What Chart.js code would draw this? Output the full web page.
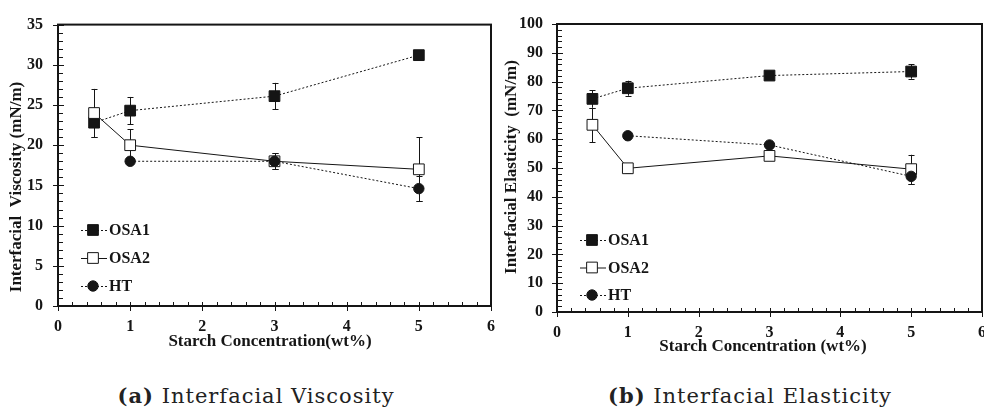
<!DOCTYPE html>
<html>
<head>
<meta charset="utf-8">
<script src="https://cdn.jsdelivr.net/npm/chart.js@4.4.0/dist/chart.umd.min.js"></script>
<style>
  body { margin: 0; width: 984px; height: 409px; overflow: hidden; background: #fff; position: relative; }
  #visc { position: absolute; left: 0; top: 0; }
  #elas { position: absolute; left: 492px; top: 0; }
  .caption { position: absolute; top: 383px; font-family: 'DejaVu Serif', serif; font-size: 21px; letter-spacing: 1px;
             line-height: 26px; color: #222; white-space: nowrap; transform: translateX(-50%); }
</style>
</head>
<body>
<canvas id="visc" width="500" height="352"></canvas>
<canvas id="elas" width="500" height="356"></canvas>
<div class="caption" style="left:256px"><b>(a)</b> Interfacial Viscosity</div>
<div class="caption" style="left:750px"><b>(b)</b> Interfacial Elasticity</div>
<script>
// starch concentration (wt%)
const concentrations = [0.5, 1, 3, 5];
const htConcentrations = [1, 3, 5];
const seriesNames = ['OSA1', 'OSA2', 'HT'];

// (a) interfacial viscosity (mN/m) with error bar half-heights
const viscOSA1 = [22.8, 24.3, 26.1, 31.2];
const viscOSA1Err = [1.8, 1.7, 1.65, 0.5];
const viscOSA2 = [24.0, 20.0, 18.0, 17.0];
const viscOSA2Err = [3.0, 2.0, 1.0, 4.0];
const viscHT = [18.0, 18.0, 14.6];
const viscHTErr = [0, 1.0, 1.6];

// (b) interfacial elasticity (mN/m)
const elasOSA1 = [74.0, 77.7, 82.1, 83.5];
const elasOSA1Err = [3.0, 2.6, 0.8, 2.5];
const elasOSA2 = [65.0, 49.9, 54.2, 49.6];
const elasOSA2Err = [6.0, 1.5, 0.8, 5.0];
const elasHT = [61.2, 58.0, 47.1];
const elasHTErr = [0.5, 0.8, 2.8];

const xTitle = ['Starch Concentration(wt%)', 'Starch Concentration (wt%)'];
const yTitle = ['Interfacial  Viscosity (mN/m)', 'Interfacial Elasticity  (mN/m)'];

const INK = '#151515';
const SERIF = '"Liberation Serif", serif';

const toPoints = (xs, ys) => xs.map((x, i) => ({ x: x, y: ys[i] }));

// marker / line look per series
const looks = {
  OSA1: { pointStyle: 'rect', radius: 7.6, fill: INK, dash: [2, 2], order: 2 },
  OSA2: { pointStyle: 'rect', radius: 7.6, fill: '#fff', dash: [], order: 1 },
  HT:   { pointStyle: 'circle', radius: 5.2, fill: INK, dash: [2, 2], order: 0 }
};

const makeDataset = (name, xs, ys, errs) => {
  const lk = looks[name];
  return {
    label: name,
    data: toPoints(xs, ys),
    errors: errs,
    showLine: true,
    borderColor: INK,
    borderWidth: 1,
    borderDash: lk.dash,
    pointStyle: lk.pointStyle,
    pointRadius: lk.radius,
    pointBackgroundColor: lk.fill,
    pointBorderColor: INK,
    pointBorderWidth: 1,
    order: lk.order
  };
};

// draws a marker like chart.js does, for the legend
const drawMarker = (ctx, style, r, x, y, fill) => {
  ctx.beginPath();
  if (style === 'rect') {
    const s = r * Math.SQRT1_2;
    ctx.rect(x - s, y - s, 2 * s, 2 * s);
  } else {
    ctx.arc(x, y, r, 0, Math.PI * 2);
  }
  ctx.fillStyle = fill;
  ctx.fill();
  ctx.lineWidth = 1;
  ctx.strokeStyle = INK;
  ctx.stroke();
};

// frame, inward ticks, error bars, legend and axis titles
const decorPlugin = {
  id: 'decor',
  beforeDatasetsDraw(chart) {
    const ctx = chart.ctx;
    const xs = chart.scales.x, ys = chart.scales.y;
    ctx.save();
    ctx.strokeStyle = INK;
    ctx.lineWidth = 1;
    ctx.beginPath();
    chart.data.datasets.forEach(ds => {
      ds.data.forEach((p, i) => {
        const e = ds.errors[i];
        if (!e) return;
        const x = Math.round(xs.getPixelForValue(p.x)) + 0.5;
        const y1 = ys.getPixelForValue(p.y - e), y2 = ys.getPixelForValue(p.y + e);
        ctx.moveTo(x, y1); ctx.lineTo(x, y2);
        ctx.moveTo(x - 3, Math.round(y1) + 0.5); ctx.lineTo(x + 3, Math.round(y1) + 0.5);
        ctx.moveTo(x - 3, Math.round(y2) + 0.5); ctx.lineTo(x + 3, Math.round(y2) + 0.5);
      });
    });
    ctx.stroke();
    ctx.restore();
  },
  afterDraw(chart, args, opts) {
    const ctx = chart.ctx;
    const { left, right, top, bottom } = chart.chartArea;
    const xs = chart.scales.x, ys = chart.scales.y;
    ctx.save();
    ctx.strokeStyle = INK;

    // minor and major ticks
    ctx.lineWidth = 1;
    ctx.beginPath();
    const ySteps = Math.round((ys.max - ys.min) / opts.yMinor);
    for (let i = 0; i <= ySteps; i++) {
      const y = Math.round(ys.getPixelForValue(ys.min + i * opts.yMinor)) + 0.5;
      const major = i % opts.perMajor === 0;
      ctx.moveTo(left - (major ? 5 : 0), y);
      ctx.lineTo(left + (major ? 6 : 5), y);
    }
    const xSteps = Math.round((xs.max - xs.min) / 0.2);
    for (let i = 0; i <= xSteps; i++) {
      const x = Math.round(xs.getPixelForValue(xs.min + i * 0.2)) + 0.5;
      const major = i % 5 === 0;
      ctx.moveTo(x, bottom + (major ? 5 : 0));
      ctx.lineTo(x, bottom - 4);
    }
    ctx.stroke();

    // plot frame
    ctx.lineWidth = 2;
    ctx.strokeRect(left, top, right - left, bottom - top);

    // legend
    ctx.font = 'bold 16px ' + SERIF;
    ctx.textBaseline = 'middle';
    ctx.textAlign = 'left';
    seriesNames.forEach((name, i) => {
      const lk = looks[name];
      const y = opts.legendY + i * opts.legendGap;
      const x0 = left + 23;
      ctx.lineWidth = 1;
      ctx.strokeStyle = INK;
      ctx.setLineDash(lk.dash);
      ctx.beginPath();
      ctx.moveTo(x0, y + 0.5); ctx.lineTo(x0 + 26, y + 0.5);
      ctx.stroke();
      ctx.setLineDash([]);
      drawMarker(ctx, lk.pointStyle, lk.radius, x0 + 12, y, lk.fill);
      ctx.fillStyle = INK;
      ctx.fillText(name, x0 + 28, y + 1);
    });

    // axis titles
    ctx.font = 'bold 17px ' + SERIF;
    ctx.textAlign = 'center';
    ctx.fillStyle = INK;
    ctx.fillText(opts.xTitle, opts.xTitleX, opts.xTitleY);
    ctx.translate(opts.yTitleX, opts.yTitleY);
    ctx.rotate(-Math.PI / 2);
    ctx.fillText(opts.yTitle, 0, 0);
    ctx.restore();
  }
};

const makeChart = (id, datasets, yMax, yStep, yMinor, layout, decor) => new Chart(document.getElementById(id), {
  type: 'scatter',
  data: { datasets: datasets },
  plugins: [decorPlugin],
  options: {
    responsive: false,
    animation: false,
    layout: { padding: layout },
    plugins: {
      legend: { display: false },
      tooltip: { enabled: false },
      decor: Object.assign({ yMinor: yMinor, perMajor: yStep / yMinor }, decor)
    },
    scales: {
      x: {
        type: 'linear', min: 0, max: 6,
        grid: { display: false, drawTicks: false },
        border: { display: false },
        ticks: { stepSize: 1, padding: 11, color: INK, font: { family: SERIF, size: 16, weight: 'bold' } },
        afterFit: s => { s.height = decor.xAxisHeight; s.paddingLeft = 0; s.paddingRight = 0; }
      },
      y: {
        min: 0, max: yMax,
        grid: { display: false, drawTicks: false },
        border: { display: false },
        ticks: { stepSize: yStep, padding: decor.yPad, color: INK, font: { family: SERIF, size: 16, weight: 'bold' } },
        afterFit: s => { s.width = decor.yAxisWidth; }
      }
    }
  }
});

const drawAll = () => {
  makeChart('visc', [
    makeDataset('OSA1', concentrations, viscOSA1, viscOSA1Err),
    makeDataset('OSA2', concentrations, viscOSA2, viscOSA2Err),
    makeDataset('HT', htConcentrations, viscHT, viscHTErr)
  ], 35, 5, 1, { top: 14, right: 9, left: 0, bottom: 0 }, {
    xAxisHeight: 46, yAxisWidth: 58, yPad: 15,
    legendY: 230, legendGap: 28,
    xTitle: xTitle[0], xTitleX: 270, xTitleY: 342,
    yTitle: yTitle[0], yTitleX: 17, yTitleY: 187
  });

  makeChart('elas', [
    makeDataset('OSA1', concentrations, elasOSA1, elasOSA1Err),
    makeDataset('OSA2', concentrations, elasOSA2, elasOSA2Err),
    makeDataset('HT', htConcentrations, elasHT, elasHTErr)
  ], 100, 10, 2, { top: 24, right: 10, left: 0, bottom: 0 }, {
    xAxisHeight: 44, yAxisWidth: 65, yPad: 14,
    legendY: 240, legendGap: 27.5,
    xTitle: xTitle[1], xTitleX: 271, xTitleY: 347,
    yTitle: yTitle[1], yTitleX: 20, yTitleY: 167
  });
};

// make sure the serif face is ready before the canvas text is drawn
Promise.all([
  document.fonts.load('bold 16px "Liberation Serif"'),
  document.fonts.load('bold 17px "Liberation Serif"')
]).then(drawAll, drawAll);
</script>
</body>
</html>
